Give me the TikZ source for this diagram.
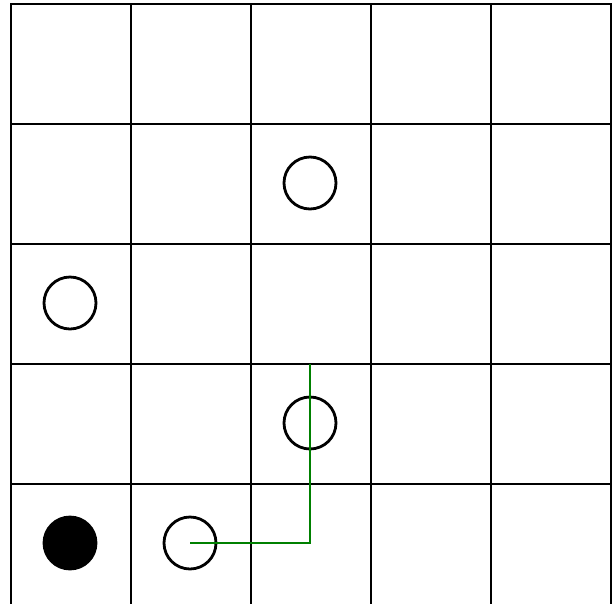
\documentclass[tikz,border=0pt]{standalone}
\begin{document}
\begin{tikzpicture}[x=1pt,y=-1pt,
  gridline/.style={line width=2.8pt,black},
  token/.style={circle,draw=black,line width=2.8pt,minimum size=52pt,inner sep=0pt},
  stone/.style={token,fill=black},
  route/.style={line width=2.8pt,green!50!black}]
\useasboundingbox (0,0) rectangle (615,603);
\clip (0,0) rectangle (615,603);
\foreach \y in {4,124,244,364,484,606} \draw[gridline] (10,\y) -- (612,\y);
\foreach \x in {11,131,251,371,491,611} \draw[gridline] (\x,3) -- (\x,606);
\node[token] (a) at (310,183) {};
\node[token] (b) at (70,303) {};
\node[token] (c) at (310,423) {};
\node[token] (d) at (190,543) {};
\node[stone] (e) at (70,543) {};
\coordinate (t) at (310,364);
\draw[route] (d.center) -| (t);
\end{tikzpicture}
\end{document}
